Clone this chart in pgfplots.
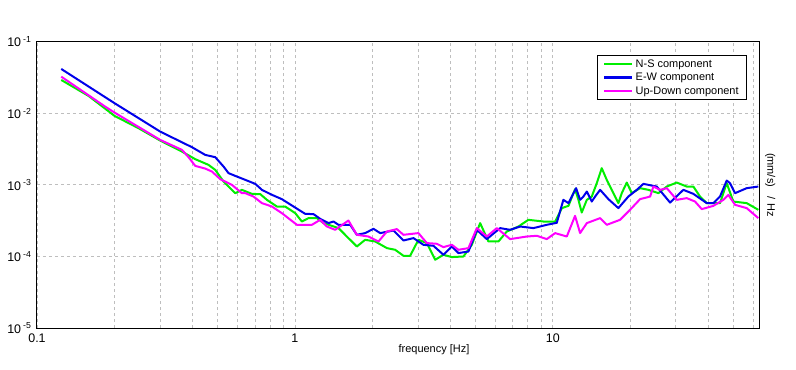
\documentclass[border=0pt]{standalone}
\usepackage{pgfplots}
\pgfplotsset{compat=1.18}
\usepackage{fontspec}
\setmainfont{Liberation Sans}
\definecolor{nsgreen}{RGB}{0,238,0}
\definecolor{ewblue}{RGB}{0,0,235}
\definecolor{udmag}{RGB}{255,0,255}
\definecolor{gridgray}{RGB}{190,190,190}
\begin{document}
\begin{tikzpicture}
\begin{axis}[
  xmode=log, ymode=log,
  scale only axis, width=722.3bp, height=286.3bp,
  xmin=0.1, xmax=63.2, ymin=1e-5, ymax=1e-1,
  axis line style={line width=1bp, black},
  xtick={0.1,1,10}, xticklabels={0.1,1,10},
  minor xtick={0.2,0.3,0.4,0.5,0.6,0.7,0.8,0.9,2,3,4,5,6,7,8,9,20,30,40,50,60},
  ytick={1e-5,1e-4,1e-3,1e-2,1e-1},
  yticklabels={10\,\textsuperscript{-5},10\,\textsuperscript{-4},10\,\textsuperscript{-3},10\,\textsuperscript{-2},10\,\textsuperscript{-1}},
  major tick length=0pt, minor tick length=0pt,
  xmajorgrids, xminorgrids, ymajorgrids, yminorgrids=false,
  grid style={gridgray, line width=0.8bp, dash pattern=on 3bp off 3bp},
  minor grid style={gridgray, line width=0.8bp, dash pattern=on 3bp off 3bp},
  tick label style={font=\fontsize{12.5}{14}\selectfont},
  xticklabel style={yshift=-2bp},
  yticklabel style={xshift=-2bp},
  xlabel={frequency [Hz]},
  xlabel style={at={(axis description cs:0.5496,0)}, anchor=center, yshift=-22bp, font=\fontsize{11}{12}\selectfont},
  legend style={at={(axis description cs:0.983,0.9535)}, anchor=north east, draw=black, line width=0.8bp,
    font=\fontsize{11}{12}\selectfont, cells={anchor=west}, row sep=0.5bp, inner xsep=6bp, inner ysep=2bp},
  legend image code/.code={\draw[line width=2.7bp] (0bp,0bp) -- (28bp,0bp);},
  every axis plot/.append style={line width=2bp, line join=round},
]
\addplot[nsgreen] coordinates {
(0.1242,2.921e-2) (0.1585,1.746e-2) (0.2000,9.183e-3) (0.2476,6.185e-3) (0.3005,4.152e-3)
(0.3648,2.916e-3) (0.4108,2.284e-3) (0.4625,1.901e-3) (0.491,1.620e-3) (0.529,1.112e-3)
(0.587,7.658e-4) (0.623,8.517e-4) (0.681,7.487e-4) (0.734,7.415e-4) (0.779,6.177e-4)
(0.852,4.978e-4) (0.917,4.978e-4) (1.003,4.027e-4) (1.064,3.075e-4) (1.129,3.429e-4)
(1.217,3.429e-4) (1.291,2.921e-4) (1.476,2.487e-4) (1.590,1.898e-4) (1.739,1.377e-4)
(1.873,1.707e-4) (2.048,1.617e-4) (2.274,1.307e-4) (2.448,1.238e-4) (2.636,1.021e-4)
(2.798,1.021e-4) (3.013,1.707e-4) (3.249,1.536e-4) (3.498,8.978e-5) (3.767,1.054e-4)
(4.060,9.793e-5) (4.503,9.98e-5) (4.853,1.454e-4) (5.227,2.921e-4) (5.630,1.617e-4)
(6.154,1.617e-4) (6.633,2.229e-4) (7.357,2.618e-4) (8.042,3.247e-4) (9.196,3.075e-4)
(10.21,3.075e-4) (10.84,4.730e-4) (11.50,5.092e-4) (12.20,8.710e-4) (12.57,6.177e-4)
(12.95,4.105e-4) (13.55,6.177e-4) (14.16,6.866e-4) (14.81,1.056e-3) (15.48,1.710e-3)
(16.19,1.174e-3) (17.18,7.658e-4) (17.96,5.554e-4) (18.51,7.658e-4) (19.36,1.077e-3)
(20.24,7.658e-4) (21.80,8.993e-4) (23.48,8.517e-4) (25.67,7.658e-4) (27.67,9.469e-4)
(30.25,1.077e-3) (33.07,9.469e-4) (35.08,9.469e-4) (37.24,6.866e-4) (39.54,5.554e-4)
(44.50,5.554e-4) (47.24,1.056e-3) (50.12,5.847e-4) (56.48,5.554e-4) (62.65,4.478e-4)
};
\addlegendentry{N-S component}
\addplot[ewblue] coordinates {
(0.1242,4.16e-2) (0.2000,1.381e-2) (0.3005,5.545e-3) (0.399,3.359e-3) (0.449,2.622e-3)
(0.491,2.436e-3) (0.529,1.800e-3) (0.553,1.457e-3) (0.587,1.335e-3) (0.702,1.033e-3)
(0.745,8.517e-4) (0.815,7.25e-4) (0.890,6.317e-4) (0.988,4.978e-4) (1.096,3.937e-4)
(1.181,3.901e-4) (1.253,3.353e-4) (1.350,2.921e-4) (1.411,3.075e-4) (1.476,2.765e-4)
(1.638,2.765e-4) (1.739,2.005e-4) (1.873,2.118e-4) (2.017,2.432e-4) (2.141,2.118e-4)
(2.411,2.302e-4) (2.636,1.670e-4) (2.883,1.803e-4) (3.151,1.454e-4) (3.445,1.408e-4)
(3.767,1.054e-4) (4.060,1.377e-4) (4.306,1.114e-4) (4.709,1.172e-4) (5.075,2.354e-4)
(5.548,1.746e-4) (6.247,2.487e-4) (6.831,2.354e-4) (7.470,2.618e-4) (8.410,2.487e-4)
(9.478,2.765e-4) (10.36,2.949e-4) (10.99,6.177e-4) (11.50,5.554e-4) (11.85,6.866e-4)
(12.31,8.993e-4) (12.76,6.177e-4) (13.14,6.866e-4) (13.55,8.064e-4) (14.16,5.847e-4)
(14.59,6.866e-4) (15.26,8.517e-4) (16.43,6.317e-4) (17.96,4.730e-4) (19.63,6.866e-4)
(21.17,8.517e-4) (22.45,1.033e-3) (25.30,9.469e-4) (28.49,5.662e-4) (32.08,8.517e-4)
(35.08,7.487e-4) (39.54,5.554e-4) (41.94,5.554e-4) (44.50,6.866e-4) (47.24,1.148e-3)
(48.66,1.056e-3) (50.88,7.658e-4) (56.48,8.993e-4) (62.65,9.469e-4)
};
\addlegendentry{E-W component}
\addplot[udmag] coordinates {
(0.1242,3.247e-2) (0.1839,1.238e-2) (0.2000,1.021e-2) (0.3005,4.246e-3) (0.3648,3.080e-3)
(0.387,2.436e-3) (0.4108,1.841e-3) (0.449,1.688e-3) (0.477,1.533e-3) (0.5134,1.201e-3)
(0.570,1.0e-3) (0.623,7.658e-4) (0.642,7.658e-4) (0.691,6.866e-4) (0.745,5.554e-4)
(0.815,4.978e-4) (0.890,4.027e-4) (1.018,2.765e-4) (1.164,2.765e-4) (1.253,3.247e-4)
(1.331,2.618e-4) (1.433,2.354e-4) (1.613,3.175e-4) (1.739,2.005e-4) (1.929,1.898e-4)
(2.109,1.617e-4) (2.274,2.229e-4) (2.485,2.408e-4) (2.636,2.005e-4) (3.013,2.118e-4)
(3.249,1.536e-4) (3.551,1.502e-4) (3.767,1.350e-4) (4.060,1.454e-4) (4.306,1.238e-4)
(4.709,1.307e-4) (5.075,2.487e-4) (5.548,1.898e-4) (6.066,2.487e-4) (6.831,1.746e-4)
(7.928,1.898e-4) (8.670,1.942e-4) (9.478,1.746e-4) (10.21,2.118e-4) (11.33,1.898e-4)
(12.20,3.692e-4) (12.76,2.118e-4) (13.55,2.921e-4) (15.26,3.429e-4) (16.19,2.765e-4)
(18.23,3.247e-4) (19.93,4.478e-4) (21.80,6.317e-4) (23.84,6.866e-4) (24.55,9.469e-4)
(26.06,8.517e-4) (27.67,8.993e-4) (30.25,6.177e-4) (33.07,6.524e-4) (35.61,5.847e-4)
(37.81,4.580e-4) (41.94,5.092e-4) (45.84,6.177e-4) (47.93,7.25e-4) (50.88,5.259e-4)
(56.48,4.730e-4) (62.65,3.429e-4)
};
\addlegendentry{Up-Down component}
\end{axis}
\node[rotate=-90, anchor=center, font=\fontsize{11}{12}\selectfont] at ([xshift=11bp]current axis.east) {(mm/s)\hspace{9bp}/\hspace{4bp}Hz};
\pgfresetboundingbox
\path (current axis.south west) ++(-37bp,-42bp) rectangle ++(796bp,370bp);
\end{tikzpicture}
\end{document}
